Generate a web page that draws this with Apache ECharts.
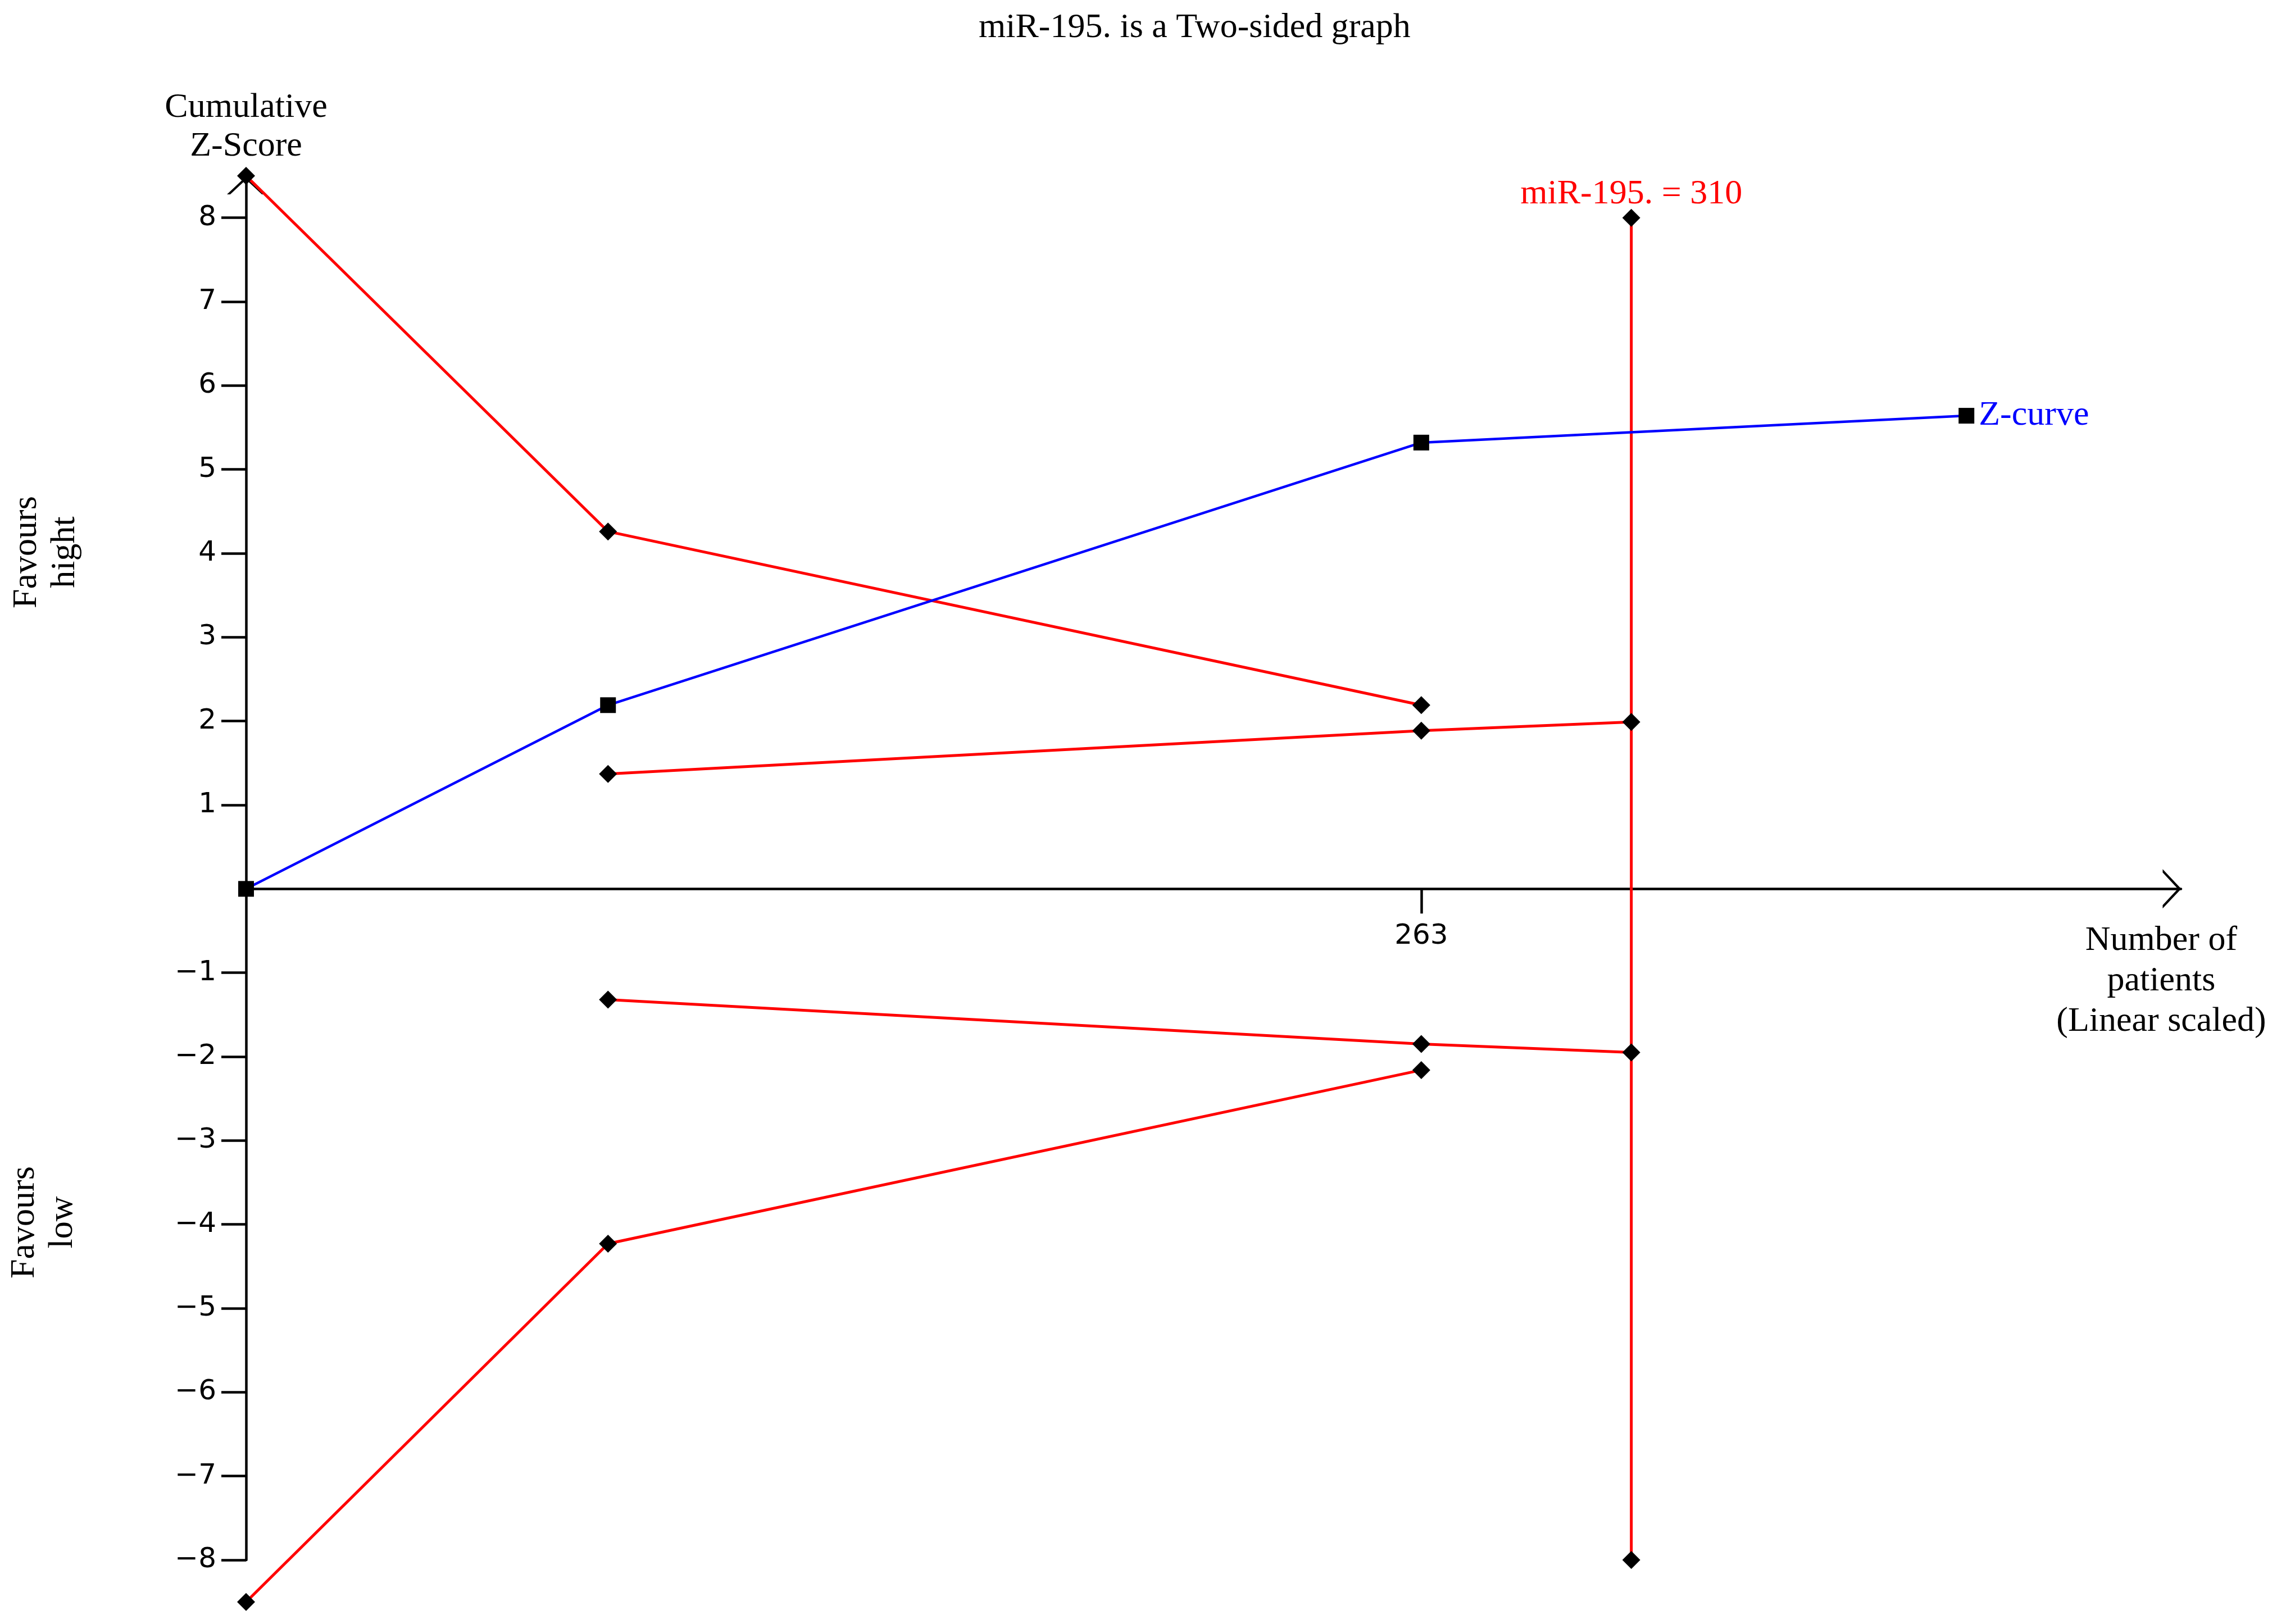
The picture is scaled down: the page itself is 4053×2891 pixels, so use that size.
<!DOCTYPE html>
<html>
<head>
<meta charset="utf-8">
<title>miR-195. is a Two-sided graph</title>
<script src="https://cdn.jsdelivr.net/npm/echarts@6/dist/echarts.min.js"></script>
<style>
  html, body { margin: 0; padding: 0; background: #fff; }
  #chart { width: 4053px; height: 2891px; }
</style>
</head>
<body>
<div id="chart"></div>
<script>
// values (number of patients / cumulative Z)
const zCurveN = [0, 81, 263, 385];
const zCurveZ = [0, 2.19, 5.32, 5.64];
const boundN = [0, 81, 263];
const upperBound = [8.5, 4.26, 2.19];
const lowerBound = [-8.5, -4.23, -2.16];
const innerN = [81, 263, 310];
const upperInner = [1.37, 1.885, 1.99];
const lowerInner = [-1.32, -1.85, -1.95];
const risN = 310;
const risZ = [8, -8];
const yTicks = [-8, -7, -6, -5, -4, -3, -2, -1, 1, 2, 3, 4, 5, 6, 7, 8];
const xTicks = [263];

const serif = "'Liberation Serif', 'Times New Roman', serif";
const tickFont = "'DejaVu Sans', sans-serif";
// open chevron used for the axis arrows
const chevron = "path://M0,33L35,0L70,33L64,33L35,6L6,33Z";

const gridTop = 313;
const gridBottom = 114;
const yMin = -8;
const yMax = 8.5;
// x labels sit at the grid bottom in ECharts 6 even with onZero, pull them up to the zero line
const zeroShift = ((2891 - gridTop - gridBottom) * (0 - yMin)) / (yMax - yMin);

const zip = (xs, ys) => xs.map((x, i) => [x, ys[i]]);

const redLine = (name, data) => ({
  name: name,
  type: "line",
  data: data,
  clip: false,
  symbol: "diamond",
  symbolSize: 32,
  showAllSymbol: true,
  lineStyle: { color: "#ff0000", width: 5 },
  itemStyle: { color: "#000" },
  z: 3,
});

const chartDom = document.getElementById("chart");
const myChart = echarts.init(chartDom, null, { renderer: "canvas" });

const option = {
  animation: false,
  backgroundColor: "#fff",
  title: {
    text: "miR-195. is a Two-sided graph",
    left: 1737,
    top: 14,
    textStyle: {
      fontFamily: serif,
      fontSize: 62,
      fontWeight: "normal",
      color: "#000",
    },
  },
  grid: {
    left: 438,
    right: 171,
    top: gridTop,
    bottom: gridBottom,
    containLabel: false,
  },
  xAxis: {
    type: "value",
    min: 0,
    max: 433,
    name: "Number of\npatients\n(Linear scaled)",
    nameLocation: "end",
    nameGap: -35,
    nameTextStyle: {
      fontFamily: serif,
      fontSize: 62,
      lineHeight: 72,
      color: "#000",
      align: "center",
      verticalAlign: "top",
      padding: [56, 0, 0, 0],
    },
    axisLine: {
      onZero: true,
      symbol: ["none", chevron],
      symbolSize: [70, 33],
      symbolOffset: [0, -16],
      lineStyle: { color: "#000", width: 4.5 },
    },
    axisTick: {
      show: true,
      customValues: xTicks,
      length: 44,
      lineStyle: { color: "#000", width: 4.5 },
    },
    axisLabel: {
      customValues: xTicks,
      margin: 60 - zeroShift,
      fontFamily: tickFont,
      fontSize: 50,
      color: "#000",
    },
    splitLine: { show: false },
  },
  yAxis: {
    type: "value",
    min: yMin,
    max: yMax,
    name: "Cumulative\nZ-Score",
    nameLocation: "end",
    nameGap: 18,
    nameTextStyle: {
      fontFamily: serif,
      fontSize: 62,
      lineHeight: 69,
      color: "#000",
      align: "center",
      verticalAlign: "bottom",
    },
    axisLine: {
      onZero: true,
      symbol: ["none", chevron],
      symbolSize: [68, 34],
      symbolOffset: [0, -17],
      lineStyle: { color: "#000", width: 4.5 },
    },
    axisTick: {
      show: true,
      customValues: yTicks,
      length: 44,
      lineStyle: { color: "#000", width: 4.5 },
    },
    axisLabel: {
      customValues: yTicks,
      margin: 53,
      fontFamily: tickFont,
      fontSize: 50,
      color: "#000",
      formatter: (v) => (v < 0 ? "\u2212" + Math.abs(v) : String(v)),
    },
    splitLine: { show: false },
  },
  graphic: [
    {
      type: "text",
      x: 82,
      y: 983,
      rotation: Math.PI / 2,
      style: {
        text: "Favours\nhight",
        fontFamily: serif,
        fontSize: 62,
        lineHeight: 68,
        fill: "#000",
        align: "center",
        verticalAlign: "middle",
      },
    },
    {
      type: "text",
      x: 78,
      y: 2176,
      rotation: Math.PI / 2,
      style: {
        text: "Favours\nlow",
        fontFamily: serif,
        fontSize: 62,
        lineHeight: 68,
        fill: "#000",
        align: "center",
        verticalAlign: "middle",
      },
    },
  ],
  series: [
    redLine("upper boundary", zip(boundN, upperBound)),
    redLine("lower boundary", zip(boundN, lowerBound)),
    redLine("upper inner", zip(innerN, upperInner)),
    redLine("lower inner", zip(innerN, lowerInner)),
    // required information size
    Object.assign(
      redLine("RIS", [
        {
          value: [risN, risZ[0]],
          label: {
            show: true,
            position: "top",
            distance: -5,
            formatter: "miR-195. = " + risN,
            fontFamily: serif,
            fontSize: 62,
            color: "#ff0000",
          },
        },
        [risN, risZ[1]],
      ]),
      { z: 2 }
    ),
    {
      name: "Z-curve",
      type: "line",
      data: zip(zCurveN, zCurveZ).map((d, i, arr) =>
        i === arr.length - 1
          ? {
              value: d,
              label: {
                show: true,
                position: "right",
                distance: 8,
                formatter: "Z-curve",
                fontFamily: serif,
                fontSize: 62,
                color: "#0000ff",
              },
            }
          : d
      ),
      clip: false,
      symbol: "rect",
      symbolSize: 28,
      showAllSymbol: true,
      lineStyle: { color: "#0000ff", width: 4.5 },
      itemStyle: { color: "#000" },
      z: 4,
    },
  ],
};

myChart.setOption(option);

window.addEventListener("resize", () => {
  myChart.resize();
});
</script>
</body>
</html>
